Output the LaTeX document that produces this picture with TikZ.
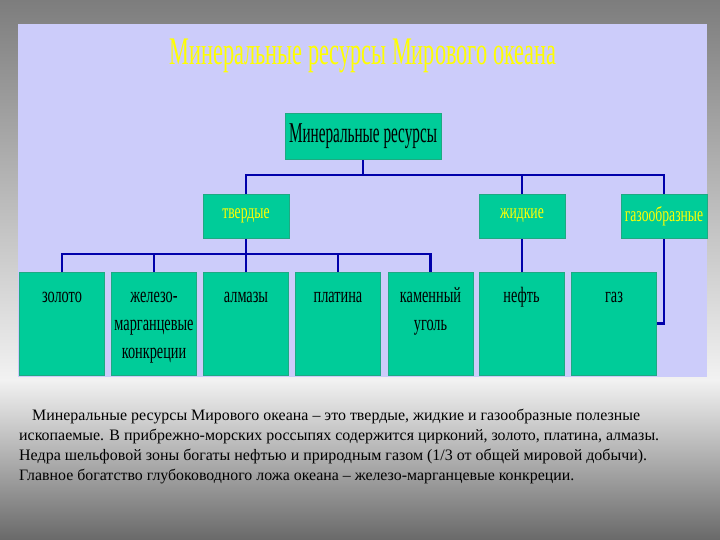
\documentclass[tikz,border=0pt]{standalone}
\usepackage{fontspec}
\usepackage{graphicx}
\setmainfont{Liberation Serif}
\newfontfamily\narrowfont[FakeStretch=0.65]{Liberation Serif}
\usetikzlibrary{backgrounds}
\definecolor{panelc}{RGB}{204,204,250}
\definecolor{boxc}{RGB}{0,204,153}
\definecolor{boxline}{RGB}{30,170,130}
\definecolor{connc}{RGB}{0,0,170}
\definecolor{titlec}{RGB}{255,255,0}
\definecolor{bgtop}{RGB}{125,125,125}
\definecolor{bgmid}{RGB}{242,242,242}
\definecolor{bgbot}{RGB}{105,105,105}
\tikzset{
  boxbase/.style={fill=boxc, draw=boxline, line width=0.8pt, inner sep=0pt},
  rootbox/.style={boxbase, minimum width=156pt, minimum height=46pt},
  midbox/.style={boxbase, minimum width=86pt, minimum height=44pt,
    font=\narrowfont\fontsize{21pt}{24pt}\selectfont, text=titlec},
  leafbox/.style={boxbase, minimum width=85pt, minimum height=103pt},
  leaftext/.style={anchor=north, inner sep=0pt, align=center,
    font=\narrowfont\fontsize{22pt}{28pt}\selectfont, text=black},
  conn/.style={draw=connc, line width=2.6pt},
  paraline/.style={anchor=base west, inner sep=0pt, text=black}
}
\begin{document}
\begin{tikzpicture}[x=1pt,y=1pt]
\useasboundingbox (0,0) rectangle (720,540);
% title
\node[inner sep=0pt, text=titlec] (title) at (363,484)
  {\resizebox*{387pt}{34pt}{Минеральные ресурсы Мирового океана}};
% root
\node[rootbox] (root) at (363,404)
  {\resizebox*{148pt}{25pt}{Минеральные ресурсы}};
% level 2
\node[midbox] (tverd) at (246,324) {твердые};
\node[midbox] (zhid) at (522,324) {жидкие};
\node[midbox] (gazo) at (664,324) {газообразные};
% level 3
\node[leafbox] (zoloto) at (62,216.5) {};
\node[leafbox] (zhelezo) at (154,216.5) {};
\node[leafbox] (almazy) at (246,216.5) {};
\node[leafbox] (platina) at (338,216.5) {};
\node[leafbox] (ugol) at (430.5,216.5) {};
\node[leafbox] (neft) at (521.5,216.5) {};
\node[leafbox] (gaz) at (614,216.5) {};
\node[leaftext] (t1) at ([yshift=-15pt]zoloto.north) {\rule{0pt}{16pt}золото};
\node[leaftext] (t2) at ([yshift=-15pt]zhelezo.north) {\rule{0pt}{16pt}железо-\\марганцевые\\конкреции};
\node[leaftext] (t3) at ([yshift=-15pt]almazy.north) {\rule{0pt}{16pt}алмазы};
\node[leaftext] (t4) at ([yshift=-15pt]platina.north) {\rule{0pt}{16pt}платина};
\node[leaftext] (t5) at ([yshift=-15pt]ugol.north) {\rule{0pt}{16pt}каменный\\уголь};
\node[leaftext] (t6) at ([yshift=-15pt]neft.north) {\rule{0pt}{16pt}нефть};
\node[leaftext] (t7) at ([yshift=-15pt]gaz.north) {\rule{0pt}{16pt}газ};
% paragraph
\node[paraline] (p1) at (32,119) {\resizebox{608pt}{!}{\fontsize{16pt}{19pt}\selectfont Минеральные ресурсы Мирового океана – это твердые, жидкие и газообразные полезные}};
\node[paraline] (p2) at (19,99) {\resizebox{640pt}{!}{\fontsize{16pt}{19pt}\selectfont ископаемые. В прибрежно-морских россыпях содержится цирконий, золото, платина, алмазы.}};
\node[paraline] (p3) at (19,79) {\resizebox{628pt}{!}{\fontsize{16pt}{19pt}\selectfont Недра шельфовой зоны богаты нефтью и природным газом (1/3 от общей мировой добычи).}};
\node[paraline] (p4) at (19,59) {\resizebox{555pt}{!}{\fontsize{16pt}{19pt}\selectfont Главное богатство глубоководного ложа океана – железо-марганцевые конкреции.}};
\coordinate (bus1) at (363,365);
\coordinate (bus2) at (246,286);
\begin{scope}[on background layer]
  \shade[top color=bgtop, bottom color=bgmid] (0,160) rectangle (720,540);
  \shade[top color=bgmid, bottom color=bgbot] (0,0) rectangle (720,160.5);
  \fill[panelc] (18,163) rectangle (707,516);
  \draw[conn] (root.south) -- (root.south |- bus1);
  \draw[conn] (tverd.north) |- (gazo.north |- bus1) -- (gazo.north);
  \draw[conn] (zhid.north) -- (zhid.north |- bus1);
  \draw[conn] (tverd.south) -- (tverd.south |- bus2);
  \draw[conn] (zoloto.north) |- (ugol.north |- bus2) -- (ugol.north);
  \draw[conn] (zhelezo.north) -- (zhelezo.north |- bus2);
  \draw[conn] (almazy.north) -- (almazy.north |- bus2);
  \draw[conn] (platina.north) -- (platina.north |- bus2);
  \draw[conn] (zhid.south) -- (zhid.south |- neft.north);
  \draw[conn] (gazo.south) |- (gaz.east);
\end{scope}
\end{tikzpicture}
\end{document}
